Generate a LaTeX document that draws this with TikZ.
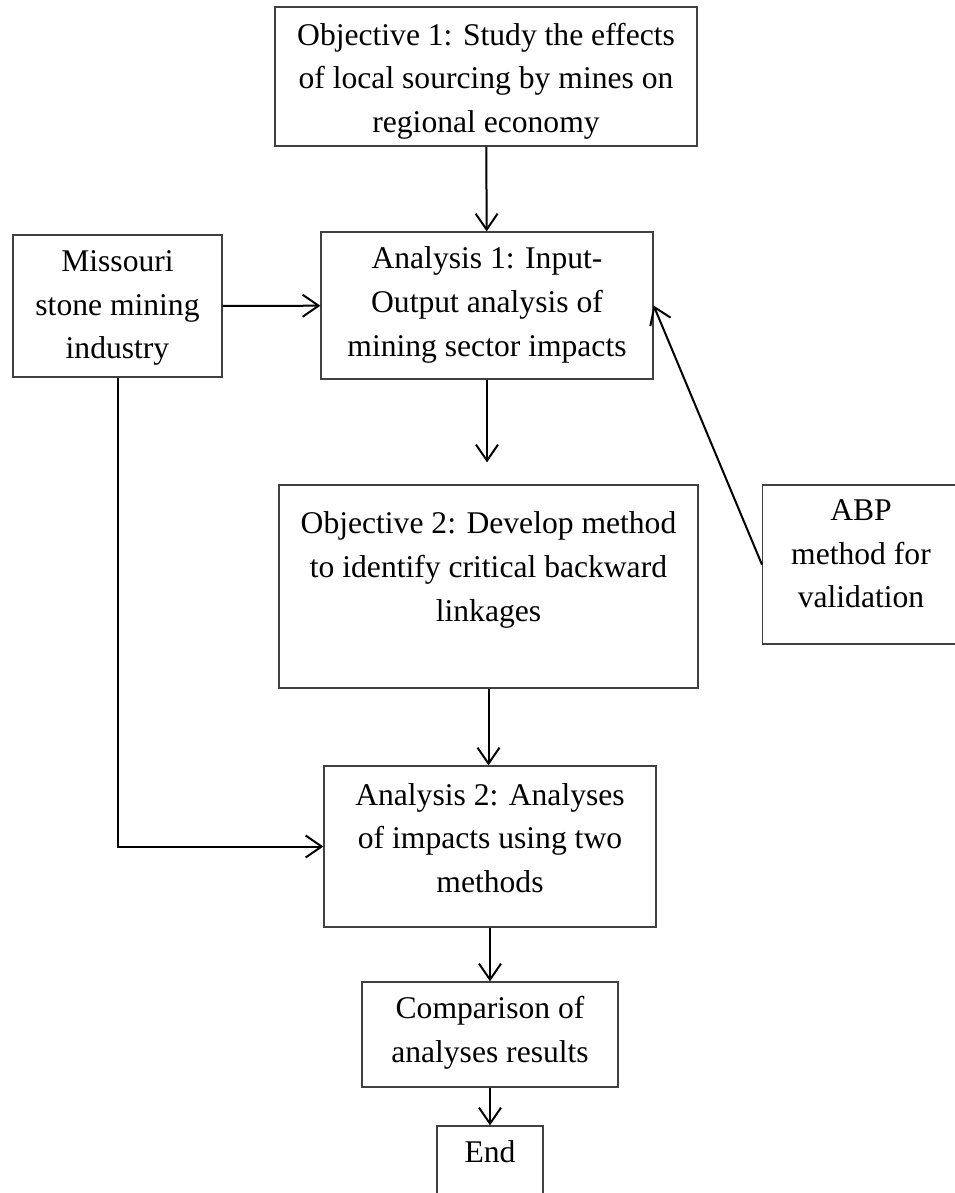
\documentclass[tikz,border=0pt]{standalone}
\usepackage{fontspec}
\setmainfont{Liberation Serif}
\usetikzlibrary{arrows.meta}

\begin{document}
\begin{tikzpicture}[x=0.5pt, y=-0.5pt,
    box/.style = {draw=black!75, line width=0.6pt, inner sep=0pt},
    txt/.style = {align=center, inner sep=0pt, font=\fontsize{15.8}{21.8}\selectfont},
    arr/.style = {line width=1pt, -{Straight Barb[length=8pt, width=11pt, line width=1pt]}}
]
    \useasboundingbox (0, 0) rectangle (954, 1193);

    \node[box, minimum width=211pt, minimum height=69.5pt] (obj1) at (486, 76.5) {};
    \node[box, minimum width=166pt, minimum height=73.5pt] (ana1) at (487, 305.5) {};
    \node[box, minimum width=104.5pt, minimum height=71pt] (missouri) at (117.5, 306) {};
    \node[box, minimum width=209.5pt, minimum height=101.5pt] (obj2) at (488.5, 586.5) {};
    \node[box, minimum width=101pt, minimum height=79.5pt] (abp) at (863.5, 564.5) {};
    \node[box, minimum width=166pt, minimum height=80.5pt] (ana2) at (490, 846.5) {};
    \node[box, minimum width=128pt, minimum height=52.5pt] (comp) at (490, 1034.5) {};
    \node[box, minimum width=53pt, minimum height=44.5pt] (end) at (490, 1170.5) {};

    \node[txt] (obj1-t) at (486, 81) {Objective 1: Study the effects\\of local sourcing by mines on\\regional economy};
    \node[txt] (ana1-t) at (487, 305) {Analysis 1: Input-\\Output analysis of\\mining sector impacts};
    \node[txt] (missouri-t) at (117.5, 308) {Missouri\\stone mining\\industry};
    \node[txt] (obj2-t) at (488.5, 570) {Objective 2: Develop method\\to identify critical backward\\linkages};
    \node[txt] (abp-t) at (861, 554) {ABP\\method for\\validation};
    \node[txt] (ana2-t) at (490, 838) {Analysis 2: Analyses\\of impacts using two\\methods};
    \node[txt] (comp-t) at (490, 1033) {Comparison of\\analyses results};
    \node[txt] (end-t) at (490, 1152) {End};

    \draw[arr] (obj1) -- (ana1);
    \draw[arr] (missouri) -- (ana1);
    \draw[arr, shorten >=11pt] (ana1.south) -- (ana1.south |- obj2.north);
    \draw[arr] (obj2.south) -- (obj2.south |- ana2.north);
    \draw[arr] (ana2) -- (comp);
    \draw[arr] (comp) -- (end);
    \draw[arr] (abp.west) -- (ana1.east);
    \draw[arr] (missouri.south) |- (ana2.west);
\end{tikzpicture}
\end{document}
